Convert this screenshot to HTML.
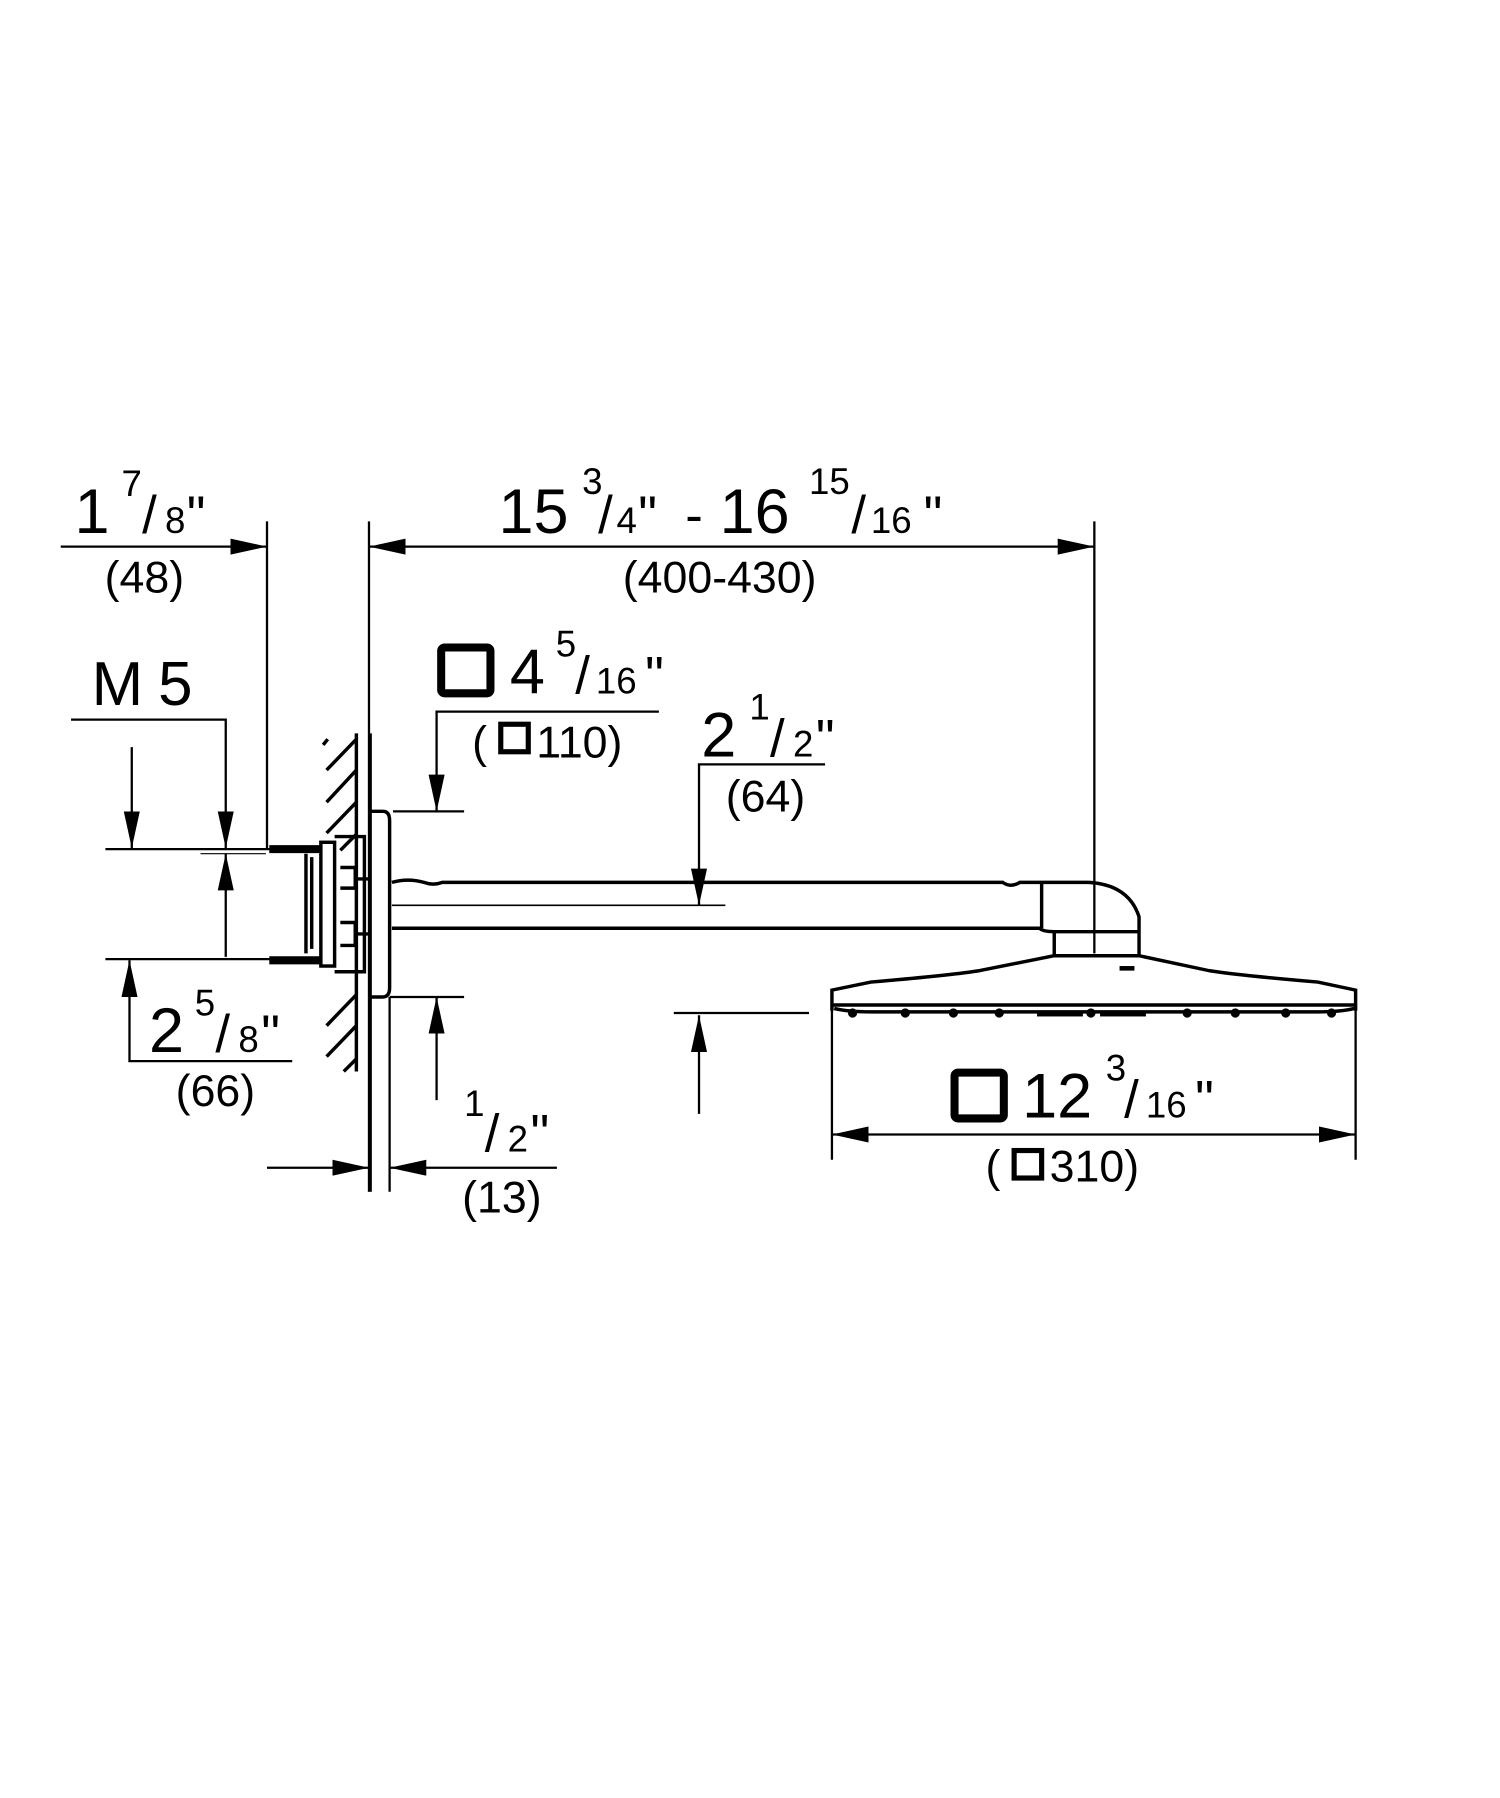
<!DOCTYPE html>
<html><head><meta charset="utf-8"><style>
html,body{margin:0;padding:0;background:#fff;}
svg{display:block;}
text{font-family:"Liberation Sans",Arial,sans-serif;fill:#000;}
</style></head><body>
<svg width="1500" height="1798" viewBox="0 0 1309 1569" xmlns="http://www.w3.org/2000/svg">
<defs>
<marker id="a" viewBox="0 0 32 14" refX="32" refY="7" markerWidth="32" markerHeight="14" markerUnits="userSpaceOnUse" orient="auto-start-reverse"><path d="M0,0 L32,7 L0,14 z" fill="#000"/></marker>
</defs>
<g stroke="#000" fill="none" stroke-width="2">
<line x1="53" y1="477" x2="233" y2="477" marker-end="url(#a)"/>
<line x1="233" y1="455" x2="233" y2="740"/>
<line x1="322" y1="455" x2="322" y2="1040"/>
<line x1="322" y1="477" x2="955" y2="477" marker-start="url(#a)" marker-end="url(#a)"/>
<line x1="955" y1="455" x2="955" y2="832"/>
<polyline points="62,628 197,628 197,740" marker-end="url(#a)"/>
<line x1="197" y1="835" x2="197" y2="745" marker-end="url(#a)"/>
<line x1="115" y1="652" x2="115" y2="740" marker-end="url(#a)"/>
<line x1="92" y1="741" x2="280" y2="741"/>
<line x1="175" y1="745" x2="232" y2="745" stroke-width="1"/>
<line x1="92" y1="837" x2="240" y2="837"/>
<polyline points="255,926 113,926 113,838" marker-end="url(#a)"/>
<polyline points="575,621 381,621 381,708" marker-end="url(#a)"/>
<line x1="343" y1="708" x2="405" y2="708"/>
<line x1="340" y1="870" x2="405" y2="870"/>
<line x1="381" y1="960" x2="381" y2="870" marker-end="url(#a)"/>
<polyline points="720,667 610,667 610,790" marker-end="url(#a)"/>
<line x1="342" y1="790" x2="633" y2="790" stroke-width="1.5"/>
<line x1="588" y1="884" x2="706" y2="884"/>
<line x1="610" y1="972" x2="610" y2="886" marker-end="url(#a)"/>
<line x1="233" y1="1019" x2="322" y2="1019" marker-end="url(#a)"/>
<line x1="486" y1="1019" x2="340" y2="1019" marker-end="url(#a)"/>
<line x1="340" y1="870" x2="340" y2="1040"/>
<line x1="726" y1="877" x2="726" y2="1012"/>
<line x1="1183" y1="877" x2="1183" y2="1012"/>
<line x1="726" y1="990" x2="1183" y2="990" marker-start="url(#a)" marker-end="url(#a)"/>
</g>
<g stroke="#000" fill="none" stroke-width="3">
<line x1="311" y1="640" x2="311" y2="935"/>
<line x1="323" y1="640" x2="323" y2="1040"/>
<path d="M285,672 L311,645 M285,700 L311,672 M285,727 L311,700 M297,742 L311,728 M285,895 L311,868 M285,922 L311,895 M300,935 L311,924"/>
<path d="M282,650 L286,645"/>
<path d="M323,708 L334,708 Q340,708 340,716 L340,862 Q340,870 334,870 L323,870"/>
<rect x="280" y="735" width="12" height="108" fill="#fff"/>
<path d="M292,730 L318,730 L318,848 L292,848"/>
<path d="M267,745 L267,832 M272,748 L272,828"/>
<path d="M297,757 L310,757 L310,775 L297,775 M297,825 L310,825 L310,805 L297,805 M310,767 L323,767 M310,815 L323,815"/>
<line x1="235" y1="741" x2="280" y2="741" stroke-width="7"/>
<line x1="235" y1="838" x2="280" y2="838" stroke-width="7"/>
<path d="M342,770 Q356,766 370,770 Q378,773 386,770 L875,770 Q882,775 890,770 L950,770 Q985,772 994,800 L994,834"/>
<path d="M342,810 L907,810 Q910,813 920,813 L994,813"/>
<line x1="909" y1="770" x2="909" y2="810"/>
<line x1="920" y1="813" x2="920" y2="834"/>
<path d="M920,834 L994,834 L1055,847 Q1080,851 1150,857 L1183,864 L1183,882 M920,834 L855,847 Q830,851 760,857 L726,864 L726,882"/>
<line x1="726" y1="877" x2="1183" y2="877"/>
<path d="M728,880 Q740,883 760,883 L1150,883 Q1170,883 1182,880"/>
<line x1="977" y1="845" x2="990" y2="845" stroke-width="4"/>
</g>
<g fill="#000">
<circle cx="744" cy="884" r="4"/><circle cx="790" cy="884" r="4"/><circle cx="832" cy="884" r="4"/><circle cx="872" cy="884" r="4"/><circle cx="952" cy="884" r="4"/><circle cx="1036" cy="884" r="4"/><circle cx="1078" cy="884" r="4"/><circle cx="1122" cy="884" r="4"/><circle cx="1162" cy="884" r="4"/>
<rect x="905" y="882" width="40" height="5"/><rect x="960" y="882" width="40" height="5"/>
</g>
<g stroke="#000" fill="none">
<rect x="385" y="565" width="43" height="40" rx="3" stroke-width="7"/>
<rect x="437" y="632" width="24" height="24" stroke-width="4.5"/>
<rect x="833" y="936" width="43" height="40" rx="3" stroke-width="7"/>
<rect x="885" y="1004" width="24" height="24" stroke-width="4.5"/>
</g>
<g font-size="55">
<text x="65" y="465">1</text><text x="106" y="433" font-size="32">7</text><text x="124" y="465" font-size="46">/</text><text x="144" y="465" font-size="32">8</text><text x="163" y="465" font-size="46">"</text>
<text x="435" y="465">15</text><text x="508" y="431" font-size="32">3</text><text x="522" y="465" font-size="46">/</text><text x="538" y="465" font-size="32">4</text><text x="557" y="465" font-size="46">"</text><text x="598" y="465" font-size="46">-</text><text x="628" y="465">16</text><text x="706" y="431" font-size="32">15</text><text x="743" y="465" font-size="46">/</text><text x="760" y="465" font-size="32">16</text><text x="806" y="465" font-size="46">"</text>
<text x="80" y="615" font-size="54">M</text><text x="138" y="615" font-size="54">5</text>
<text x="445" y="605">4</text><text x="485" y="573" font-size="32">5</text><text x="502" y="605" font-size="46">/</text><text x="520" y="605" font-size="32">16</text><text x="563" y="605" font-size="46">"</text>
<text x="612" y="660">2</text><text x="654" y="628" font-size="32">1</text><text x="672" y="660" font-size="46">/</text><text x="692" y="660" font-size="32">2</text><text x="712" y="660" font-size="46">"</text>
<text x="130" y="918">2</text><text x="170" y="886" font-size="32">5</text><text x="188" y="918" font-size="46">/</text><text x="208" y="918" font-size="32">8</text><text x="228" y="918" font-size="46">"</text>
<text x="405" y="974" font-size="32">1</text><text x="423" y="1005" font-size="46">/</text><text x="443" y="1005" font-size="32">2</text><text x="463" y="1005" font-size="46">"</text>
<text x="892" y="975">12</text><text x="965" y="943" font-size="32">3</text><text x="981" y="975" font-size="46">/</text><text x="1000" y="975" font-size="32">16</text><text x="1043" y="975" font-size="46">"</text>
</g>
<g font-size="39">
<text x="126" y="517" text-anchor="middle">(48)</text>
<text x="628" y="517" text-anchor="middle">(400-430)</text>
<text x="412" y="661">(</text><text x="468" y="661">110)</text>
<text x="668" y="708" text-anchor="middle">(64)</text>
<text x="188" y="965" text-anchor="middle">(66)</text>
<text x="438" y="1058" text-anchor="middle">(13)</text>
<text x="860" y="1031">(</text><text x="916" y="1031">310)</text>
</g>
</svg>
</body></html>
